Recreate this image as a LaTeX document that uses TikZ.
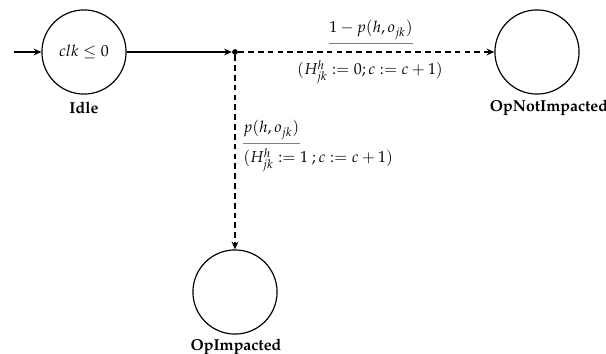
\documentclass[tikz,border=0pt]{standalone}
\usepackage[T1]{fontenc}
\usepackage{mathpazo}
\usetikzlibrary{arrows.meta}
\begin{document}
\begin{tikzpicture}[x=0.63pt,y=-0.63pt,
  state/.style={circle,draw,line width=0.75pt,minimum size=53pt,inner sep=0pt},
  dotnode/.style={circle,fill,inner sep=0pt,minimum size=3.6pt},
  lbl/.style={font=\bfseries},
  solidarr/.style={line width=0.7pt,-{Stealth[length=5pt,width=4.4pt,inset=1.8pt]}},
  dasharr/.style={line width=0.7pt,dash pattern=on 3.6pt off 2.6pt,-{Stealth[length=5pt,width=4.4pt,inset=1.8pt]}},
  bar/.style={draw=gray,line width=0.6pt}]
\useasboundingbox (0,0) rectangle (606,354);
\node[state] (idle) at (84,52) {$clk \leq 0$};
\node[state] (notimp) at (537,52) {};
\node[state] (imp) at (235,292) {};
\node[dotnode] (d) at (235,52) {};
\coordinate (s) at (14,52);
\node[lbl] (lidle) at (84,108) {Idle};
\node[lbl] (lnot) at (549,108) {OpNotImpacted};
\node[lbl] (limp) at (236,347) {OpImpacted};
\draw[solidarr] (s) -- (idle);
\draw[solidarr] (idle) -- (d);
\draw[dasharr] (d) -- (notimp);
\draw[dasharr] (d) -- (imp);
\node[inner sep=0pt] (pn) at (371,30) {$1-p(h,o_{jk})$};
\draw[bar] ([yshift=-2.5pt]pn.south west) -- ([yshift=-2.5pt]pn.south east);
\node[inner sep=0pt] (pd) at (370,72) {$(H^h_{jk} := 0; c := c+1)$};
\node[inner sep=0pt,anchor=west] (vn) at (243,130) {$p(h,o_{jk})$};
\draw[bar] ([yshift=-2pt]vn.south west) -- ([yshift=-2pt]vn.south east);
\node[inner sep=0pt,anchor=west] (vd) at (243,160) {$(H^h_{jk} := 1\ ; c := c+1)$};
\end{tikzpicture}
\end{document}
